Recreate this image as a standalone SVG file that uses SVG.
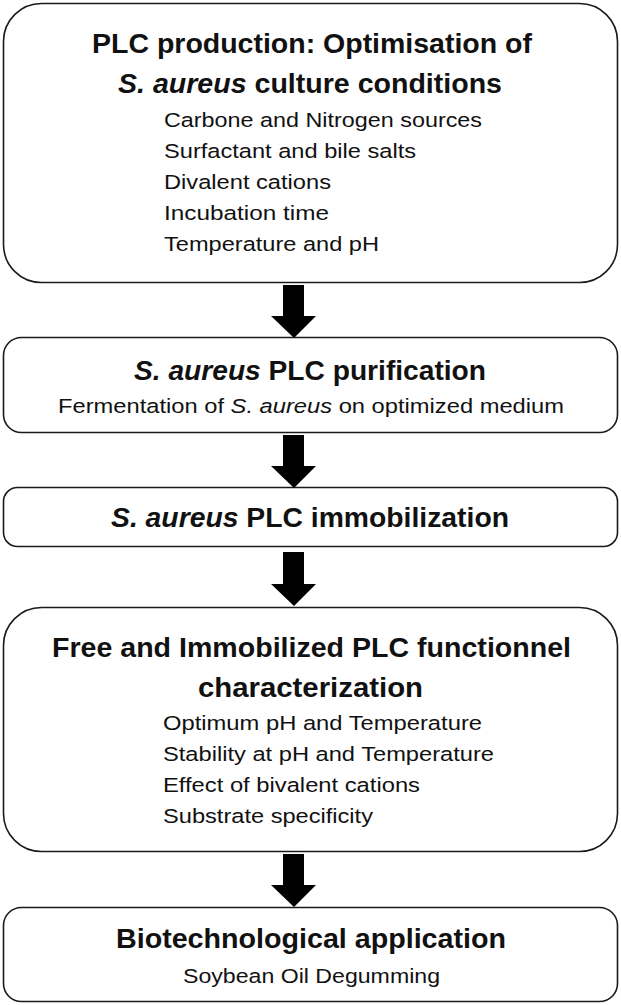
<svg xmlns="http://www.w3.org/2000/svg" width="621" height="1005" viewBox="0 0 621 1005">
<style>
.box{fill:#fff;stroke:#1a1a1a;stroke-width:1.6}
.t{font-family:"Liberation Sans",Arial,sans-serif;fill:#111}
.h{font-size:27px;font-weight:bold}
.s{font-size:20.5px}
.i{font-style:italic}
.arr{fill:#000}
</style>
<rect width="621" height="1005" fill="#fff"/>
<g id="node1">
<rect class="box" x="3.5" y="3.5" width="614" height="279" rx="38" ry="38"/>
<text class="t h" x="92" y="53" textLength="440" lengthAdjust="spacingAndGlyphs">PLC production: Optimisation of</text>
<text class="t h" x="118" y="93" textLength="384" lengthAdjust="spacingAndGlyphs"><tspan class="i">S. aureus</tspan> culture conditions</text>
<text class="t s" x="164" y="127" textLength="318" lengthAdjust="spacingAndGlyphs">Carbone and Nitrogen sources</text>
<text class="t s" x="164" y="158" textLength="252" lengthAdjust="spacingAndGlyphs">Surfactant and bile salts</text>
<text class="t s" x="164" y="189" textLength="167" lengthAdjust="spacingAndGlyphs">Divalent cations</text>
<text class="t s" x="164" y="220" textLength="165" lengthAdjust="spacingAndGlyphs">Incubation time</text>
<text class="t s" x="164" y="251" textLength="215" lengthAdjust="spacingAndGlyphs">Temperature and pH</text>
</g>
<g id="node2">
<rect class="box" x="3.5" y="337.5" width="614" height="95" rx="18" ry="18"/>
<text class="t h" x="134" y="380" textLength="352" lengthAdjust="spacingAndGlyphs"><tspan class="i">S. aureus</tspan> PLC purification</text>
<text class="t s" x="58" y="413" textLength="506" lengthAdjust="spacingAndGlyphs">Fermentation of <tspan class="i">S. aureus</tspan> on optimized medium</text>
</g>
<g id="node3">
<rect class="box" x="3.5" y="487.5" width="614" height="59" rx="14" ry="14"/>
<text class="t h" x="111" y="527" textLength="398" lengthAdjust="spacingAndGlyphs"><tspan class="i">S. aureus</tspan> PLC immobilization</text>
</g>
<g id="node4">
<rect class="box" x="3.5" y="607.5" width="614" height="244" rx="38" ry="38"/>
<text class="t h" x="52" y="657" textLength="519" lengthAdjust="spacingAndGlyphs">Free and Immobilized PLC functionnel</text>
<text class="t h" x="198" y="697" textLength="225" lengthAdjust="spacingAndGlyphs">characterization</text>
<text class="t s" x="163" y="730" textLength="319" lengthAdjust="spacingAndGlyphs">Optimum pH and Temperature</text>
<text class="t s" x="163" y="761" textLength="331" lengthAdjust="spacingAndGlyphs">Stability at pH and Temperature</text>
<text class="t s" x="163" y="792" textLength="257" lengthAdjust="spacingAndGlyphs">Effect of bivalent cations</text>
<text class="t s" x="163" y="823" textLength="210" lengthAdjust="spacingAndGlyphs">Substrate specificity</text>
</g>
<g id="node5">
<rect class="box" x="3.5" y="907.5" width="614" height="94" rx="18" ry="18"/>
<text class="t h" x="116" y="948" textLength="390" lengthAdjust="spacingAndGlyphs">Biotechnological application</text>
<text class="t s" x="183" y="983" textLength="257" lengthAdjust="spacingAndGlyphs">Soybean Oil Degumming</text>
</g>
<g id="connectors">
<polygon class="arr" points="283,285 304,285 304,316 316,316 294,338 271,316 283,316"/>
<polygon class="arr" points="283,435 304,435 304,466 316,466 294,488 271,466 283,466"/>
<polygon class="arr" points="283,552 304,552 304,584 316,584 294,606 271,584 283,584"/>
<polygon class="arr" points="283,854 304,854 304,885 316,885 294,907 271,885 283,885"/>
</g>
</svg>
